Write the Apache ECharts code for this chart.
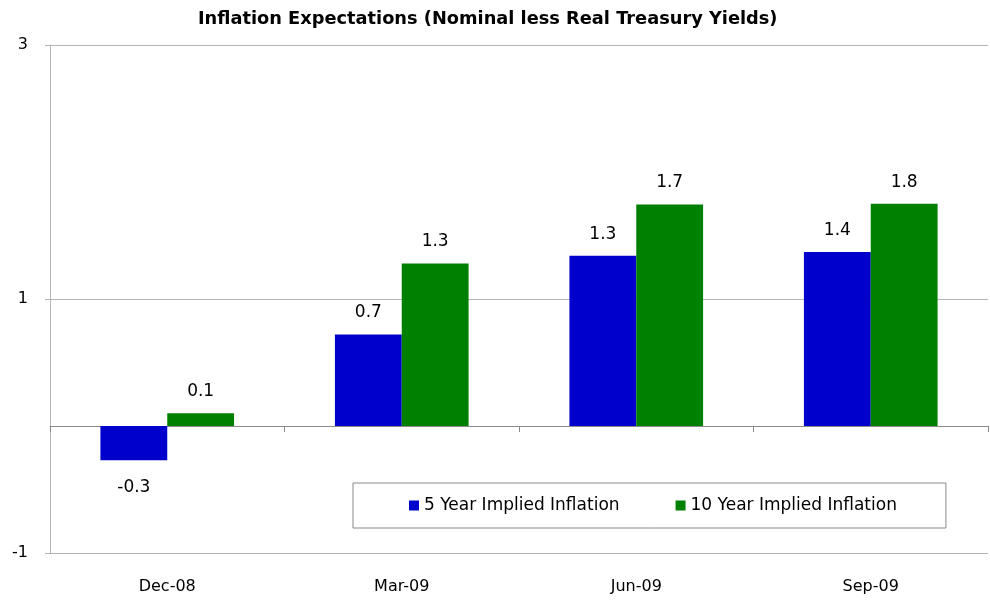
<!DOCTYPE html>
<html>
<head>
<meta charset="utf-8">
<script src="https://cdn.jsdelivr.net/npm/echarts@6/dist/echarts.min.js"></script>
<style>
  html, body { margin: 0; padding: 0; background: #fff; }
  #chart { width: 990px; height: 602px; }
</style>
</head>
<body>
<div id="chart"></div>
<script>
const categories = ['Dec-08', 'Mar-09', 'Jun-09', 'Sep-09'];
const fiveYear = [-0.27, 0.72, 1.34, 1.37];
const tenYear = [0.10, 1.28, 1.745, 1.75];
const yTicks = [-1, 1, 3];

const font = '"DejaVu Sans", sans-serif';

// 负值的标签放在柱子下面
function toItems(values) {
    return values.map(v => ({
        value: v,
        label: v < 0 ? { position: 'bottom', distance: 19 } : { position: 'top', distance: 13 }
    }));
}

const barLabel = {
    show: true,
    color: '#000',
    fontFamily: font,
    fontSize: 17,
    formatter: p => p.value.toFixed(1)
};

const option = {
    animation: false,
    title: {
        text: 'Inflation Expectations (Nominal less Real Treasury Yields)',
        left: 198,
        top: 10,
        padding: 0,
        textStyle: { fontFamily: font, fontSize: 17.8, fontWeight: 'bold', color: '#000' }
    },
    legend: {
        left: 353,
        top: 483,
        padding: [14, 49, 14, 56],
        borderColor: '#888',
        borderWidth: 1,
        itemWidth: 10,
        itemHeight: 10,
        itemGap: 56,
        icon: 'rect',
        textStyle: { fontFamily: font, fontSize: 17, color: '#000' }
    },
    grid: { left: 50, right: 2, top: 45, bottom: 49, containLabel: false },
    xAxis: [
        {
            type: 'category',
            data: categories,
            position: 'bottom',
            axisLine: { show: false, onZero: false },
            axisTick: { show: false },
            axisLabel: { fontFamily: font, fontSize: 16, color: '#000', margin: 26 }
        },
        {
            type: 'category',
            data: categories,
            position: 'bottom',
            axisLine: { onZero: true, lineStyle: { color: '#8a8a8a', width: 1 } },
            axisTick: { show: true, length: 6, lineStyle: { color: '#8a8a8a' } },
            axisLabel: { show: false }
        }
    ],
    yAxis: {
        type: 'value',
        min: yTicks[0],
        max: yTicks[yTicks.length - 1],
        interval: 2,
        axisLine: { show: true, lineStyle: { color: '#b4b4b4' } },
        axisTick: { show: true, length: 5, lineStyle: { color: '#b4b4b4' } },
        splitLine: { lineStyle: { color: '#b4b4b4' } },
        axisLabel: { fontFamily: font, fontSize: 16, color: '#000', margin: 22 }
    },
    series: [
        {
            name: '5 Year Implied Inflation',
            type: 'bar',
            xAxisIndex: 0,
            data: toItems(fiveYear),
            barGap: 0,
            barCategoryGap: '43%',
            itemStyle: { color: '#0000cc' },
            label: barLabel
        },
        {
            name: '10 Year Implied Inflation',
            type: 'bar',
            xAxisIndex: 0,
            data: toItems(tenYear),
            barGap: 0,
            barCategoryGap: '43%',
            itemStyle: { color: '#008000' },
            label: barLabel
        }
    ]
};

const myChart = echarts.init(document.getElementById('chart'));
myChart.setOption(option);
</script>
</body>
</html>
